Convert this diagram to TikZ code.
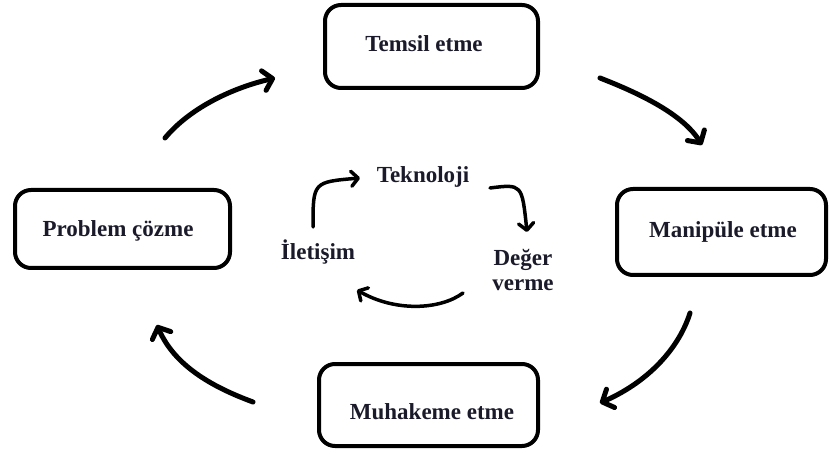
\documentclass[tikz,border=0pt]{standalone}
\usepackage{fontspec}
\setmainfont{Liberation Serif}
\usetikzlibrary{arrows.meta}
\definecolor{ink}{HTML}{1A1A2A}
\tikzset{
  box/.style={draw=black, line width=4pt, rounded corners=16pt, inner sep=0pt},
  lbl/.style={font=\fontsize{23}{25}\selectfont\bfseries, text=ink, inner sep=0pt, align=center},
  bigarrow/.style={line width=5pt, line cap=round, line join=round,
    -{Straight Barb[length=9pt,width=20pt,line cap=round,line join=round]}},
  smallarrow/.style={line width=3.5pt, line cap=round, line join=round,
    -{Straight Barb[length=7pt,width=15pt,line cap=round,line join=round]}}
}
\begin{document}
\begin{tikzpicture}[x=1pt,y=-1pt]
\useasboundingbox (0,0) rectangle (830,454);
\fill[white] (0,0) rectangle (830,454);

% outer cycle boxes
\node[box, minimum width=213pt, minimum height=83pt] (temsil) at (431.5,46.5) {};
\node[lbl] (temsilT) at (424,44) {Temsil etme};
\node[box, minimum width=215pt, minimum height=78pt] (problem) at (122.5,229) {};
\node[lbl] (problemT) at (118,231) {Problem çözme};
\node[box, minimum width=209pt, minimum height=86pt] (manip) at (721.5,232) {};
\node[lbl] (manipT) at (723,232) {Manipüle etme};
\node[box, minimum width=219pt, minimum height=82pt] (muhak) at (428.5,405) {};
\node[lbl] (muhakT) at (432,412) {Muhakeme etme};

% inner cycle labels
\node[lbl] (tekno) at (423,177) {Teknoloji};
\node[lbl] (ileti) at (318,252) {İletişim};
\node[lbl] (deger) at (523,270) {Değer\\verme};

% outer arrow end points
\coordinate (a1s) at (165,138); \coordinate (a1e) at (275,78);
\coordinate (a2s) at (600,78);  \coordinate (a2e) at (702,145);
\coordinate (a3s) at (690,313); \coordinate (a3e) at (600,403);
\coordinate (a4s) at (253,402); \coordinate (a4e) at (157,325);

\draw[bigarrow] (a1s) .. controls (190,108) and (232,88) .. (a1e);
\draw[bigarrow] (a2s) .. controls (636,92) and (682,113) .. (a2e);
\draw[bigarrow] (a3s) .. controls (680,345) and (652,380) .. (a3e);
\draw[bigarrow] (a4s) .. controls (215,388) and (175,367) .. (a4e);

% inner arrow end points
\coordinate (b1s) at (313,227); \coordinate (b1e) at (360,178);
\coordinate (b2s) at (490,188); \coordinate (b2e) at (527,232);
\coordinate (b3s) at (463,293); \coordinate (b3e) at (357,290);

\draw[smallarrow] (b1s) .. controls (313,182) .. (b1e);
\draw[smallarrow] (b2s) .. controls (522,184) .. (b2e);
\draw[smallarrow] (b3s) .. controls (440,310) and (395,312) .. (b3e);
\end{tikzpicture}
\end{document}
